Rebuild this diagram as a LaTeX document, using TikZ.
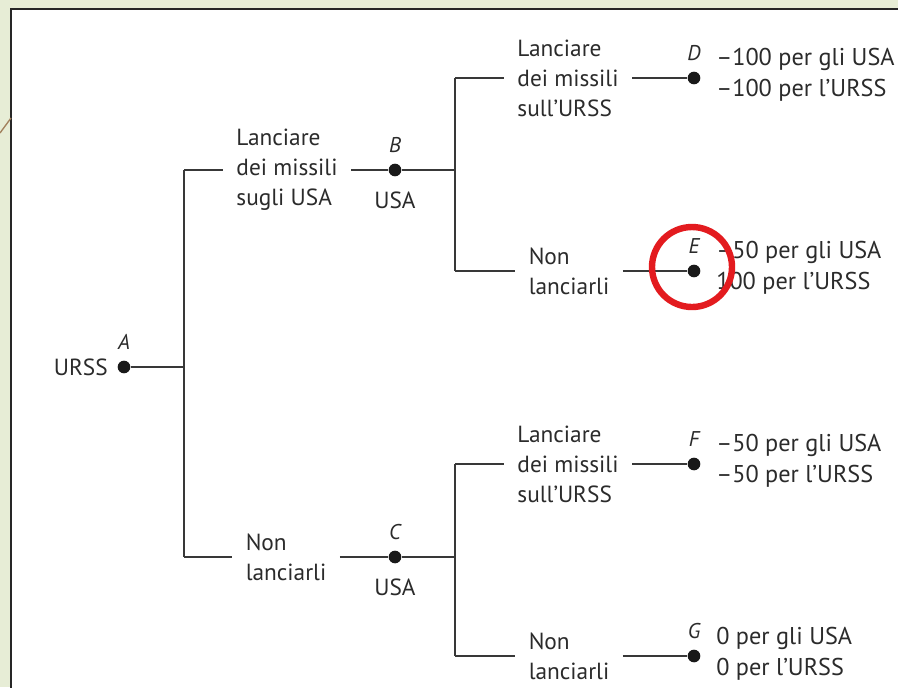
\documentclass[tikz,border=0pt]{standalone}
\usepackage{fontspec}
\setmainfont{PT Sans}
\usetikzlibrary{positioning}

\begin{document}
\begin{tikzpicture}[x=0.75pt, y=-0.75pt, font=\fontsize{17.5}{22.5}\selectfont]
    \definecolor{pageColour}{HTML}{E7EDD6}
    \definecolor{lineColour}{HTML}{383838}
    \definecolor{textColour}{HTML}{2B2B2B}
    \definecolor{ringColour}{HTML}{E31B1F}

    \tikzset{
      branch/.style={draw=lineColour, line width=1.1pt},
      player/.style={circle, fill=black!90, minimum size=9.5pt, inner sep=0pt},
      choice/.style={align=left, inner xsep=10pt, inner ysep=0pt, text=textColour},
      tag/.style={inner sep=0pt, text=textColour, font=\fontsize{16}{18}\selectfont\itshape},
      who/.style={inner sep=0pt, text=textColour},
      payoff/.style={align=left, anchor=west, inner sep=0pt, text=textColour,
                     font=\fontsize{18.2}{23.5}\selectfont}
    }

    % Page and panel
    \clip (0,0) rectangle (898,687);
    \fill[pageColour] (0,0) rectangle (898,687);
    \filldraw[fill=white, draw=black!85, line width=1.5pt] (11,9) rectangle (920,710);
    \draw[brown!55!gray, line width=1pt] (0,133) -- (11,118);

    % Decision points
    \node[player] (A) at (124,367) {};
    \node[player] (B) at (395,170) {};
    \node[player] (C) at (395,557) {};
    \node[player] (D) at (694,78) {};
    \node[player] (E) at (694,271) {};
    \node[player] (F) at (694,464) {};
    \node[player] (G) at (694,656) {};

    \node[tag, above=13pt] at (A) {A};
    \node[tag, above=13pt] at (B) {B};
    \node[tag, above=13pt] at (C) {C};
    \node[tag, above=13pt] at (D) {D};
    \node[tag, above=13pt] at (E) {E};
    \node[tag, above=13pt] at (F) {F};
    \node[tag, above=13pt] at (G) {G};

    \node[who, left=12pt] at (A) {URSS};
    \node[who, below=16pt] at (B) {USA};
    \node[who, below=16pt] at (C) {USA};

    % Forks
    \coordinate (aFork) at (184,367);
    \coordinate (aTop) at (184,170);
    \coordinate (aBot) at (184,557);
    \coordinate (bFork) at (455,170);
    \coordinate (bTop) at (455,78);
    \coordinate (bBot) at (455,271);
    \coordinate (cFork) at (455,557);
    \coordinate (cTop) at (455,464);
    \coordinate (cBot) at (455,656);

    % Moves
    \node[choice] (chAB) at (287,170) {Lanciare\\dei missili\\sugli USA};
    \node[choice] (chAC) at (286,557) {Non\\lanciarli};
    \node[choice] (chBD) at (568,78) {Lanciare\\dei missili\\sull’URSS};
    \node[choice] (chBE) at (569,271) {Non\\lanciarli};
    \node[choice] (chCF) at (568,464) {Lanciare\\dei missili\\sull’URSS};
    \node[choice] (chCG) at (569,656) {Non\\lanciarli};

    % Draw the tree
    \draw[branch] (A) -- (aFork);
    \draw[branch] (aTop) -- (aBot);
    \draw[branch] (aTop) -- (chAB);
    \draw[branch] (chAB) -- (B) -- (bFork);
    \draw[branch] (aBot) -- (chAC);
    \draw[branch] (chAC) -- (C) -- (cFork);
    \draw[branch] (bTop) -- (bBot);
    \draw[branch] (cTop) -- (cBot);
    \draw[branch] (bTop) -- (chBD);
    \draw[branch] (chBD) -- (D);
    \draw[branch] (bBot) -- (chBE);
    \draw[branch] (chBE) -- (E);
    \draw[branch] (cTop) -- (chCF);
    \draw[branch] (chCF) -- (F);
    \draw[branch] (cBot) -- (chCG);
    \draw[branch] (chCG) -- (G);

    % Payoffs
    \node[payoff] (payD) at (716,75) {--100 per gli USA\\--100 per l’URSS};
    \node[payoff] (payE) at (716,268) {--50 per gli USA\\100 per l’URSS};
    \node[payoff] (payF) at (716,461) {--50 per gli USA\\--50 per l’URSS};
    \node[payoff] (payG) at (716,654) {0 per gli USA\\0 per l’URSS};

    % Highlight
    \draw[ringColour, line width=4.8pt] (692,267) circle[radius=40];
\end{tikzpicture}
\end{document}
